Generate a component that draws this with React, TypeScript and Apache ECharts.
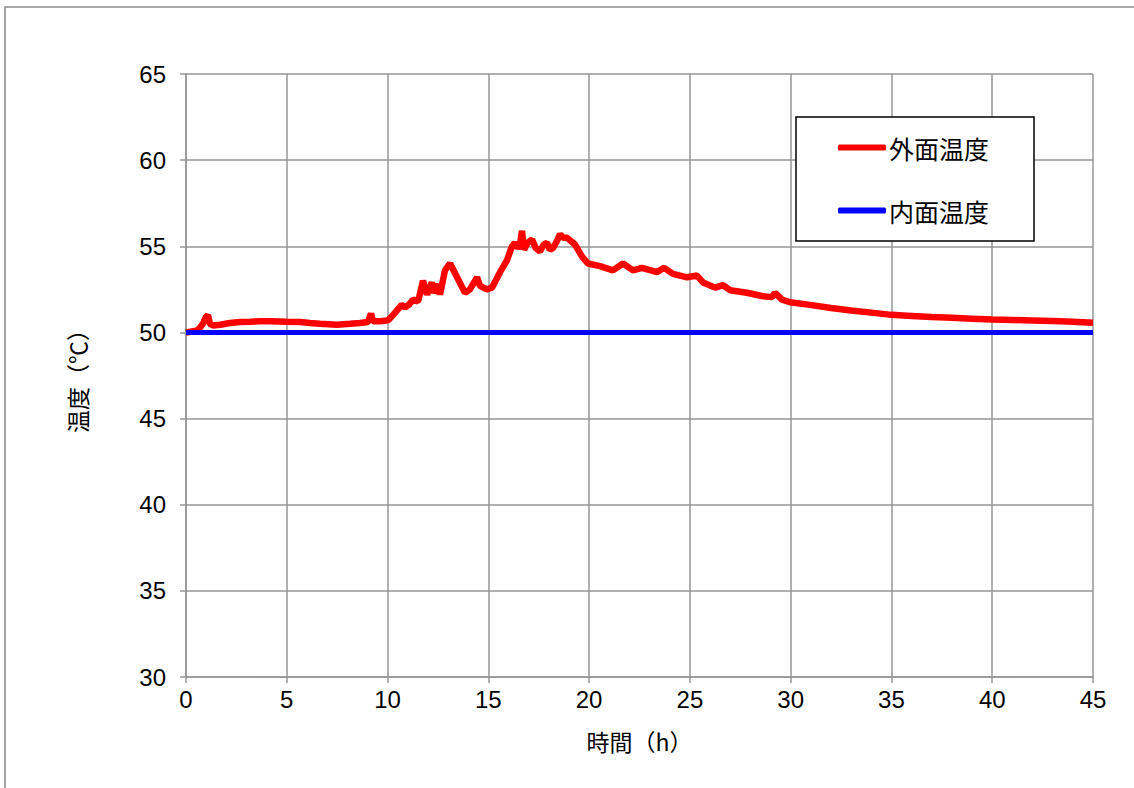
import React, { useEffect, useRef } from "react";
import * as echarts from "echarts";

const outerHours = [
  0, 0.5, 0.64, 0.84, 0.99, 1.09, 1.19, 1.34, 1.69, 2.18, 2.68, 3.18, 3.67, 4.17, 5.0, 5.66,
  6.15, 6.65, 7.5, 8.14, 8.63, 9.03, 9.18, 9.28, 9.63, 10.02, 10.27, 10.52, 10.7, 10.87, 11.05, 11.26,
  11.51, 11.62, 11.76, 11.96, 12.2, 12.3, 12.5, 12.6, 12.85, 13.1, 13.45, 13.84, 14.09, 14.44, 14.59,
  14.93, 15.18, 15.58, 15.93, 16.17, 16.32, 16.45, 16.57, 16.67, 16.77, 16.95, 17.17, 17.35, 17.56, 17.75, 17.91, 18.05, 18.21,
  18.4, 18.56, 18.7, 18.9, 19.3, 19.65, 19.94, 20.54, 21.18, 21.68, 22.18, 22.62, 23.37, 23.72, 24.16,
  24.86, 25.35, 25.65, 26.25, 26.64, 26.99, 27.83, 28.63, 29.07, 29.22, 29.57, 29.97, 30.96,
  32, 33, 34, 35, 36, 37, 38, 39, 40, 41, 42, 43, 44, 45,
];
const outerTemps = [
  50.0, 50.1, 50.2, 50.5, 50.9, 51.0, 50.5, 50.4, 50.45, 50.55, 50.6, 50.62, 50.65, 50.65, 50.62, 50.6,
  50.55, 50.5, 50.45, 50.5, 50.55, 50.6, 51.1, 50.65, 50.65, 50.7, 51.0, 51.35, 51.6, 51.45, 51.6, 51.9,
  51.8, 52.3, 53.0, 52.2, 52.9, 52.3, 52.8, 52.2, 53.6, 54.0, 53.2, 52.3, 52.5, 53.2, 52.7,
  52.5, 52.6, 53.5, 54.2, 55.0, 55.2, 54.9, 55.1, 55.9, 54.8, 55.2, 55.4, 54.9, 54.7, 55.1, 55.2, 54.8, 54.9,
  55.3, 55.7, 55.5, 55.5, 55.1, 54.4, 54.0, 53.85, 53.6, 54.0, 53.6, 53.75, 53.5, 53.75, 53.4,
  53.2, 53.3, 52.9, 52.6, 52.75, 52.45, 52.3, 52.1, 52.05, 52.3, 51.9, 51.75, 51.6,
  51.42, 51.27, 51.15, 51.02, 50.96, 50.9, 50.85, 50.8, 50.75, 50.72, 50.69, 50.66, 50.62, 50.56,
];
const innerHours = [0, 45];
const innerTemps = [50, 50];

const seriesNames = ["外面温度", "内面温度"];
const xTicks = { min: 0, max: 45, interval: 5 };
const yTicks = { min: 30, max: 65, interval: 5 };

const CJK = '"Noto Sans CJK JP", sans-serif';
const NUM = '"Liberation Sans Narrow", "Liberation Sans", sans-serif';

export default function App() {
  const ref = useRef<HTMLDivElement>(null);
  useEffect(() => {
    if (!ref.current) return;
    const chart = echarts.init(ref.current, undefined, { renderer: "svg" });
    const gridColor = "#969696";
    chart.setOption({
      animation: false,
      backgroundColor: "#ffffff",
      graphic: [
        {
          type: "rect",
          shape: { x: 5, y: 7, width: 1300, height: 1000 },
          style: { fill: "none", stroke: "#8a8a8a", lineWidth: 1.5 },
          silent: true,
        },
      ],
      legend: {
        left: 796,
        top: 117,
        orient: "vertical",
        backgroundColor: "#ffffff",
        borderColor: "#000000",
        borderWidth: 1.5,
        borderRadius: 0,
        padding: [18, 45, 18, 42],
        itemGap: 38,
        itemWidth: 48,
        itemHeight: 6,
        icon: "roundRect",
        textStyle: { fontFamily: CJK, fontSize: 25, color: "#000", padding: [0, 0, 0, -2] },
        data: seriesNames,
      },
      grid: { left: 186, top: 74, width: 907, height: 603 },
      xAxis: {
        type: "value",
        min: xTicks.min,
        max: xTicks.max,
        interval: xTicks.interval,
        name: "時間（h）",
        nameLocation: "middle",
        nameGap: 52,
        nameTextStyle: { fontFamily: CJK, fontSize: 23, color: "#000" },
        axisLine: { show: true, lineStyle: { color: gridColor, width: 1.5 } },
        axisTick: { show: true, length: 6, lineStyle: { color: gridColor, width: 1.5 } },
        axisLabel: { fontFamily: NUM, fontSize: 24, color: "#000", margin: 10 },
        splitLine: { show: true, lineStyle: { color: gridColor, width: 1.5 } },
      },
      yAxis: {
        type: "value",
        min: yTicks.min,
        max: yTicks.max,
        interval: yTicks.interval,
        name: "温度（℃）",
        nameLocation: "middle",
        nameRotate: 90,
        nameGap: 98,
        nameTextStyle: { fontFamily: CJK, fontSize: 23, color: "#000" },
        axisLine: { show: true, lineStyle: { color: gridColor, width: 1.5 } },
        axisTick: { show: true, length: 6, lineStyle: { color: gridColor, width: 1.5 } },
        axisLabel: { fontFamily: NUM, fontSize: 24, color: "#000", margin: 20 },
        splitLine: { show: true, lineStyle: { color: gridColor, width: 1.5 } },
      },
      series: [
        {
          name: seriesNames[0],
          type: "line",
          showSymbol: false,
          symbol: "none",
          data: outerHours.map((h, i) => [h, outerTemps[i]]),
          lineStyle: { color: "#ff0000", width: 6.5 },
          itemStyle: { color: "#ff0000" },
        },
        {
          name: seriesNames[1],
          type: "line",
          showSymbol: false,
          symbol: "none",
          data: innerHours.map((h, i) => [h, innerTemps[i]]),
          lineStyle: { color: "#0000ff", width: 5 },
          itemStyle: { color: "#0000ff" },
        },
      ],
    });
    return () => chart.dispose();
  }, []);
  return (
    <div
      ref={ref}
      style={{ position: "fixed", left: 0, top: 0, width: 1134, height: 788, background: "#fff" }}
    />
  );
}
